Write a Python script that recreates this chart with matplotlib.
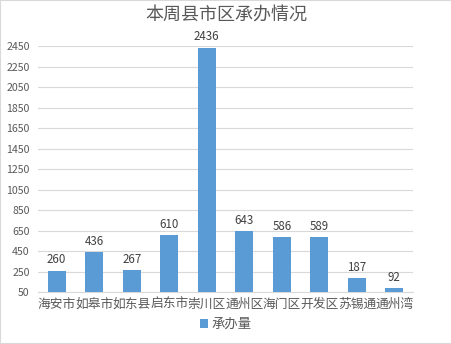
import matplotlib.pyplot as plt
from matplotlib.patches import Rectangle

plt.rcParams["font.family"] = ["Noto Sans CJK SC", "DejaVu Sans"]

categories = ["海安市", "如皋市", "如东县", "启东市", "崇川区", "通州区", "海门区", "开发区", "苏锡通", "通州湾"]
counts = [260, 436, 267, 610, 2436, 643, 586, 589, 187, 92]
yticks = [50, 250, 450, 650, 850, 1050, 1250, 1450, 1650, 1850, 2050, 2250, 2450]

bar_color = "#5B9BD5"
text_color = "#595959"

fig = plt.figure(figsize=(4.52, 3.44), dpi=100)
ax = fig.add_axes([0.084, 0.151, 0.83, 0.715])

x = range(len(categories))
bars = ax.bar(x, counts, width=0.48, color=bar_color, zorder=3)
for xi, v in zip(x, counts):
    ax.text(xi, v + 40, str(v), ha="center", va="bottom", fontsize=8.3,
            color="#404040", clip_on=False)

ax.set_xlim(-0.5, len(categories) - 0.5)
ax.set_ylim(50, 2450)
ax.set_yticks(yticks)
ax.set_xticks(list(x))
ax.set_xticklabels(categories, fontsize=9.2, color=text_color)
ax.tick_params(axis="y", labelsize=7.6, colors=text_color, length=0, pad=6)
ax.tick_params(axis="x", length=0, pad=4)
ax.grid(axis="y", color="#D9D9D9", linewidth=0.8, zorder=0)
for side in ["top", "right", "left"]:
    ax.spines[side].set_visible(False)
ax.spines["bottom"].set_color("#D9D9D9")

fig.suptitle("本周县市区承办情况", y=0.985, fontsize=13, color=text_color)

fig.legend([bars], ["承办量"], loc="center", bbox_to_anchor=(0.5, 0.058),
           frameon=False, fontsize=9.6, handlelength=0.6, handleheight=0.6,
           handletextpad=0.3, labelcolor=text_color)

fig.patches.append(Rectangle((0, 0), 1, 1, transform=fig.transFigure,
                             fill=False, edgecolor="#D9D9D9", linewidth=1.5))

fig.savefig("out.png", dpi=100)
